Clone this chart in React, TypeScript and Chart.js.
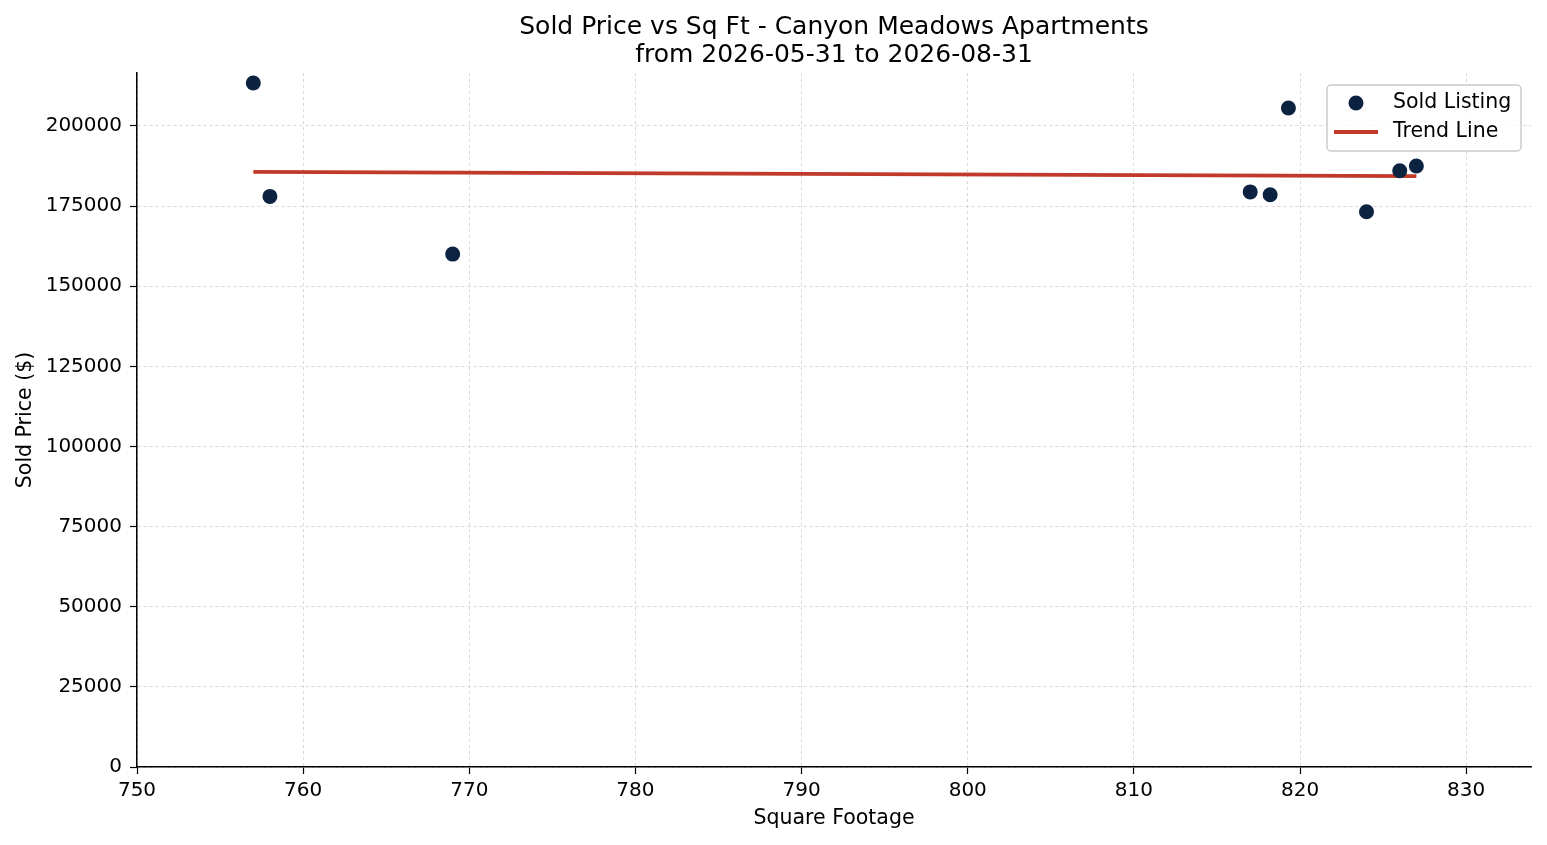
import React, { useEffect, useRef } from "react";
import { Chart, registerables } from "chart.js";

Chart.register(...registerables);

const TITLE = "Sold Price vs Sq Ft - Canyon Meadows Apartments";
const SUBTITLE = "from 2026-05-31 to 2026-08-31";

const sqFt = [757, 758, 769, 817, 818.2, 819.3, 824, 826, 827];
const soldPrice = [213400, 178000, 160000, 179400, 178500, 205600, 173200, 186000, 187500];

const trendSqFt = [757, 827];
const trendPrice = [185650, 184300];

const xTicks = [750, 760, 770, 780, 790, 800, 810, 820, 830];
const yTicks = [0, 25000, 50000, 75000, 100000, 125000, 150000, 175000, 200000];

const xMin = 750;
const xMax = 833.9;
const yMin = 0;
const yMax = 216500;

const FONT = "'DejaVu Sans', sans-serif";
const DOT = "#0b2240";
const RED = "#c0392b";

// titles centred over the plot area, matplotlib style
const titlePlugin = {
  id: "plotTitle",
  afterDraw(chart: any) {
    const { ctx, chartArea } = chart;
    const cx = (chartArea.left + chartArea.right) / 2;
    ctx.save();
    ctx.fillStyle = "#000";
    ctx.font = `25px ${FONT}`;
    ctx.textAlign = "center";
    ctx.textBaseline = "middle";
    ctx.fillText(TITLE, cx, 27);
    ctx.fillText(SUBTITLE, cx, 55);
    ctx.restore();
  },
};

// legend box inside the top-right corner
const legendPlugin = {
  id: "boxLegend",
  afterDraw(chart: any) {
    const { ctx, chartArea } = chart;
    const w = 194;
    const h = 66;
    const x = chartArea.right - 10 - w;
    const y = chartArea.top + 12;
    ctx.save();
    ctx.beginPath();
    ctx.roundRect(x, y, w, h, 4);
    ctx.fillStyle = "rgba(255,255,255,0.8)";
    ctx.fill();
    ctx.strokeStyle = "#cccccc";
    ctx.lineWidth = 1.5;
    ctx.stroke();

    ctx.beginPath();
    ctx.arc(x + 29, y + 18, 7.5, 0, Math.PI * 2);
    ctx.fillStyle = DOT;
    ctx.fill();

    ctx.beginPath();
    ctx.moveTo(x + 7, y + 47);
    ctx.lineTo(x + 51, y + 47);
    ctx.strokeStyle = RED;
    ctx.lineWidth = 3.8;
    ctx.stroke();

    ctx.fillStyle = "#000";
    ctx.font = `20.5px ${FONT}`;
    ctx.textAlign = "left";
    ctx.textBaseline = "middle";
    ctx.fillText("Sold Listing", x + 66, y + 18);
    ctx.fillText("Trend Line", x + 66, y + 47);
    ctx.restore();
  },
};

const App: React.FC = () => {
  const canvasRef = useRef<HTMLCanvasElement | null>(null);
  const chartRef = useRef<any>(null);

  useEffect(() => {
    document.body.style.margin = "0";
    if (!canvasRef.current) return;
    const ctx = canvasRef.current.getContext("2d");
    if (!ctx) return;

    if (chartRef.current) {
      chartRef.current.destroy();
    }

    chartRef.current = new Chart(ctx, {
      type: "scatter",
      data: {
        datasets: [
          {
            type: "line",
            label: "Trend Line",
            data: trendSqFt.map((x, i) => ({ x, y: trendPrice[i] })),
            borderColor: RED,
            borderWidth: 3.8,
            pointRadius: 0,
            fill: false,
            order: 2,
          },
          {
            label: "Sold Listing",
            data: sqFt.map((x, i) => ({ x, y: soldPrice[i] })),
            backgroundColor: DOT,
            borderColor: DOT,
            borderWidth: 0,
            pointRadius: 7.5,
            order: 1,
          },
        ],
      },
      plugins: [titlePlugin, legendPlugin],
      options: {
        animation: false,
        responsive: true,
        maintainAspectRatio: false,
        layout: { padding: { top: 73, right: 16, left: 0, bottom: 0 } },
        plugins: {
          legend: { display: false },
          title: { display: false },
          tooltip: { enabled: false },
        },
        scales: {
          x: {
            type: "linear",
            min: xMin,
            max: xMax,
            afterFit: (scale: any) => {
              scale.height = 78;
            },
            afterBuildTicks: (scale: any) => {
              scale.ticks = xTicks.map((v) => ({ value: v }));
            },
            ticks: {
              color: "#000",
              padding: 5,
              font: { family: FONT, size: 20 },
              callback: (v: any) => String(v),
            },
            grid: {
              color: "#d0d0d0",
              lineWidth: 0.8,
              tickColor: "#000",
              tickLength: 7,
              tickWidth: 1.2,
            },
            border: { display: true, color: "#000", width: 1.5, dash: [3, 3] },
            title: {
              display: true,
              text: "Square Footage",
              color: "#000",
              font: { family: FONT, size: 20.5 },
              padding: { top: 0, bottom: 14 },
            },
          },
          y: {
            type: "linear",
            min: yMin,
            max: yMax,
            afterFit: (scale: any) => {
              scale.width = 137;
            },
            afterBuildTicks: (scale: any) => {
              scale.ticks = yTicks.map((v) => ({ value: v }));
            },
            ticks: {
              color: "#000",
              padding: 8,
              font: { family: FONT, size: 20 },
              callback: (v: any) => String(v),
            },
            grid: {
              color: "#d0d0d0",
              lineWidth: 0.8,
              tickColor: "#000",
              tickLength: 7,
              tickWidth: 1.2,
            },
            border: { display: true, color: "#000", width: 1.5, dash: [3, 3] },
            title: {
              display: true,
              text: "Sold Price ($)",
              color: "#000",
              font: { family: FONT, size: 20.5 },
              padding: { top: 13, bottom: 0 },
            },
          },
        },
      },
    } as any);

    return () => {
      chartRef.current?.destroy();
    };
  }, []);

  return (
    <div style={{ position: "fixed", left: 0, top: 0, width: 1547, height: 845, background: "#fff" }}>
      <canvas ref={canvasRef}></canvas>
    </div>
  );
};

export default App;
